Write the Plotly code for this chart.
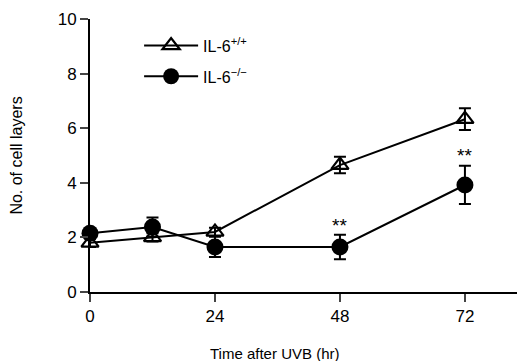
import plotly.graph_objects as go

time_h = [0, 12, 24, 48, 72]
wt_mean = [1.8, 2.0, 2.2, 4.65, 6.33]
wt_err = [0.15, 0.15, 0.15, 0.3, 0.4]
ko_mean = [2.15, 2.38, 1.65, 1.65, 3.92]
ko_err = [0.15, 0.35, 0.37, 0.45, 0.7]
star_x = [48, 72]
star_y = [2.45, 5.0]
xticks = [0, 24, 48, 72]
yticks = [0, 2, 4, 6, 8, 10]

fam = "Liberation Sans, Arial, sans-serif"
font = dict(family=fam, size=16, color="black")

fig = go.Figure()
fig.add_trace(go.Scatter(
    x=time_h, y=wt_mean, mode="lines+markers", name="IL-6<sup>+/+</sup>",
    legendgroup="a",
    line=dict(color="black", width=2),
    marker=dict(symbol="triangle-up-open", size=15, color="black", line=dict(width=2.2)),
    error_y=dict(type="data", array=wt_err, color="black", thickness=2, width=6),
    cliponaxis=False,
))
fig.add_trace(go.Scatter(
    x=time_h, y=ko_mean, mode="lines+markers", name="IL-6<sup>\u2212/\u2212</sup>",
    legendgroup="b",
    line=dict(color="black", width=2),
    marker=dict(symbol="circle", size=17, color="black"),
    error_y=dict(type="data", array=ko_err, color="black", thickness=2, width=6),
    cliponaxis=False,
))
for sx, sy in zip(star_x, star_y):
    fig.add_annotation(x=sx, y=sy, text="**", showarrow=False,
                       font=dict(family=fam, size=19, color="black"))

fig.add_annotation(xref="paper", yref="paper", x=0.433, y=-0.227,
                   xanchor="center", yanchor="middle", showarrow=False,
                   text="Time after UVB (hr)", font=dict(family=fam, size=15, color="black"))

fig.update_layout(
    width=517, height=361,
    margin=dict(l=90, r=0, t=19, b=69),
    paper_bgcolor="white", plot_bgcolor="white",
    font=font,
    showlegend=True,
    legend=dict(x=0.115, y=0.965, xanchor="left", yanchor="top",
                bgcolor="rgba(0,0,0,0)", font=dict(family=fam, size=16),
                traceorder="grouped", tracegroupgap=7, itemwidth=54),
)
fig.update_xaxes(
    range=[0, 82], tickvals=xticks, ticks="outside", ticklen=8, tickwidth=2,
    tickfont=dict(size=17),
    showline=True, linewidth=2, linecolor="black", showgrid=False, zeroline=False,
)
fig.update_yaxes(
    range=[0, 10], tickvals=yticks, ticks="outside", ticklen=8, tickwidth=2,
    tickfont=dict(size=17),
    showline=True, linewidth=2, linecolor="black", showgrid=False, zeroline=False,
    title=dict(text="No. of cell layers", standoff=31, font=dict(size=16)),
)
fig.write_html("out.html")
